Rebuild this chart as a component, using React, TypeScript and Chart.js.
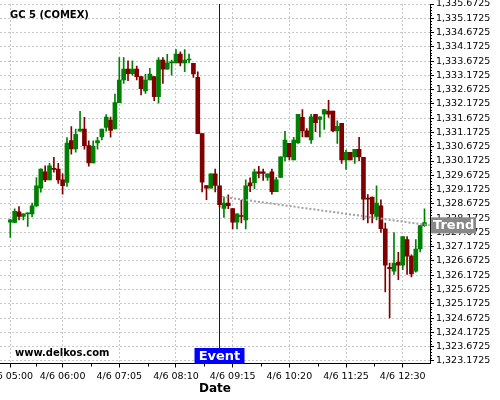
import React, { useEffect, useRef } from 'react';
import { Chart, registerables } from 'chart.js';

Chart.register(...registerables);

const titleText = 'GC 5 (COMEX)';
const watermark = 'www.delkos.com';
const xAxisTitle = 'Date';
const dateLabel = '4/6';

const times = [
  '05:00', '05:05', '05:10', '05:15', '05:20', '05:25', '05:30', '05:35', '05:40', '05:45', '05:50', '05:55',
  '06:00', '06:05', '06:10', '06:15', '06:20', '06:25', '06:30', '06:35', '06:40', '06:45', '06:50', '06:55',
  '07:00', '07:05', '07:10', '07:15', '07:20', '07:25', '07:30', '07:35', '07:40', '07:45', '07:50', '07:55',
  '08:00', '08:05', '08:10', '08:15', '08:20', '08:25', '08:30', '08:35', '08:40', '08:45', '08:50', '08:55',
  '09:00', '09:05', '09:10', '09:15', '09:20', '09:25', '09:30', '09:35', '09:40', '09:45', '09:50', '09:55',
  '10:00', '10:05', '10:10', '10:15', '10:20', '10:25', '10:30', '10:35', '10:40', '10:45', '10:50', '10:55',
  '11:00', '11:05', '11:10', '11:15', '11:20', '11:25', '11:30', '11:35', '11:40', '11:45', '11:50', '11:55',
  '12:00', '12:05', '12:10', '12:15', '12:20', '12:25', '12:30', '12:35', '12:40', '12:45', '12:50', '12:55',
];

const opens = [
  1328.03, 1328.02, 1328.39, 1328.23, 1328.32, 1328.32, 1328.60, 1329.22, 1329.79, 1329.51, 1329.92, 1329.89,
  1329.51, 1329.42, 1330.89, 1330.60, 1331.22, 1331.29, 1330.71, 1330.11, 1330.81, 1331.02, 1331.35, 1331.61,
  1331.30, 1332.22, 1333.01, 1333.39, 1333.23, 1333.39, 1333.13, 1332.63, 1333.01, 1333.13, 1332.43, 1333.71,
  1333.39, 1333.61, 1333.61, 1333.92, 1333.61, 1333.71, 1333.59, 1333.10, 1331.13, 1329.31, 1329.22, 1329.72,
  1329.30, 1328.51, 1328.70, 1328.51, 1328.03, 1328.25, 1328.11, 1329.41, 1329.41, 1329.79, 1329.79, 1329.60,
  1329.79, 1329.10, 1329.60, 1330.32, 1330.79, 1330.21, 1330.81, 1331.70, 1331.23, 1330.91, 1331.81, 1331.63,
  1331.81, 1331.92, 1331.92, 1331.23, 1331.49, 1330.21, 1330.48, 1330.32, 1330.58, 1330.30, 1328.86, 1328.91,
  1328.23, 1328.60, 1327.80, 1326.45, 1326.31, 1326.63, 1326.52, 1327.42, 1326.84, 1326.31, 1327.09, 1327.91,
];
const highs = [
  1328.12, 1328.50, 1328.58, 1328.32, 1328.36, 1328.70, 1329.59, 1329.90, 1330.00, 1330.09, 1330.30, 1330.09,
  1329.72, 1330.99, 1331.38, 1331.29, 1331.91, 1331.70, 1330.88, 1330.88, 1331.00, 1331.29, 1331.80, 1331.71,
  1332.52, 1333.80, 1333.80, 1333.68, 1333.68, 1333.50, 1333.13, 1333.21, 1333.42, 1333.13, 1333.80, 1333.80,
  1333.91, 1333.71, 1334.08, 1334.00, 1334.08, 1333.92, 1333.59, 1333.30, 1331.13, 1329.31, 1329.72, 1329.89,
  1329.30, 1328.91, 1328.99, 1328.51, 1328.32, 1328.80, 1329.51, 1329.58, 1329.89, 1329.99, 1329.89, 1329.72,
  1329.89, 1329.60, 1330.32, 1331.21, 1330.79, 1331.00, 1331.81, 1331.97, 1331.31, 1331.81, 1331.81, 1331.72,
  1331.97, 1332.30, 1331.92, 1331.58, 1331.49, 1330.56, 1330.48, 1330.58, 1331.00, 1330.30, 1329.00, 1328.91,
  1329.30, 1328.81, 1328.00, 1326.60, 1327.67, 1326.97, 1327.53, 1327.53, 1326.89, 1327.42, 1327.91, 1328.50,
];
const lows = [
  1327.50, 1328.00, 1328.11, 1328.11, 1327.88, 1328.21, 1328.58, 1329.08, 1329.45, 1329.51, 1329.78, 1329.39,
  1329.01, 1329.28, 1330.41, 1330.48, 1331.22, 1330.59, 1329.99, 1330.11, 1330.59, 1330.91, 1331.22, 1331.01,
  1331.30, 1332.22, 1332.89, 1332.99, 1333.18, 1333.01, 1332.49, 1332.54, 1333.01, 1332.29, 1332.20, 1332.89,
  1333.39, 1333.18, 1333.61, 1333.50, 1333.30, 1333.61, 1333.10, 1331.13, 1329.09, 1328.82, 1329.22, 1329.09,
  1328.56, 1328.20, 1328.50, 1327.79, 1327.79, 1328.00, 1327.79, 1329.10, 1329.20, 1329.58, 1329.49, 1329.49,
  1329.01, 1329.10, 1329.60, 1330.18, 1330.21, 1330.21, 1330.79, 1331.02, 1331.02, 1330.79, 1331.20, 1331.02,
  1331.28, 1331.70, 1331.20, 1330.79, 1330.09, 1329.88, 1330.21, 1330.09, 1330.18, 1328.11, 1328.00, 1328.00,
  1328.11, 1327.67, 1325.59, 1324.68, 1326.20, 1326.02, 1326.37, 1326.20, 1326.11, 1326.28, 1326.99, 1327.88,
];
const closes = [
  1328.11, 1328.41, 1328.23, 1328.32, 1328.36, 1328.60, 1329.30, 1329.89, 1329.51, 1330.00, 1329.88, 1329.51,
  1329.31, 1330.80, 1330.60, 1331.11, 1331.29, 1330.71, 1330.11, 1330.70, 1330.89, 1331.29, 1331.71, 1331.24,
  1332.22, 1333.01, 1333.39, 1333.23, 1333.39, 1333.13, 1332.71, 1333.01, 1333.22, 1332.43, 1333.71, 1333.39,
  1333.61, 1333.64, 1333.92, 1333.61, 1333.71, 1333.74, 1333.22, 1331.13, 1329.43, 1329.22, 1329.72, 1329.32,
  1328.64, 1328.70, 1328.61, 1328.03, 1328.32, 1328.23, 1329.30, 1329.30, 1329.79, 1329.74, 1329.74, 1329.72,
  1329.10, 1329.51, 1330.32, 1330.91, 1330.32, 1330.91, 1331.81, 1331.23, 1331.02, 1331.72, 1331.52, 1331.72,
  1331.97, 1331.81, 1331.23, 1331.39, 1330.21, 1330.48, 1330.21, 1330.58, 1330.32, 1328.84, 1328.84, 1328.32,
  1328.70, 1327.80, 1326.52, 1326.40, 1326.60, 1326.52, 1327.53, 1326.84, 1326.22, 1327.09, 1327.91, 1328.02,
];

const xTickTimes = ['05:00', '06:00', '07:05', '08:10', '09:15', '10:20', '11:25', '12:30'];
const yTickValues = [
  1323.1725, 1323.6725, 1324.1725, 1324.6725, 1325.1725, 1325.6725, 1326.1725, 1326.6725, 1327.1725,
  1327.6725, 1328.1725, 1328.6725, 1329.1725, 1329.6725, 1330.1725, 1330.6725, 1331.1725, 1331.6725,
  1332.1725, 1332.6725, 1333.1725, 1333.6725, 1334.1725, 1334.6725, 1335.1725, 1335.6725,
];

const eventTime = '09:00';
const eventLabel = 'Event';
const trendTimes = ['09:03', '13:01'];
const trendValues = [1328.92, 1327.92];
const trendLabel = 'Trend';

const UP = '#008000';
const DOWN = '#800000';
const FONT = "'DejaVu Sans', sans-serif";

const toMin = (t: string) => {
  const [h, m] = t.split(':').map(Number);
  return h * 60 + m - 300;
};
const fromMin = (v: number) => {
  const tot = Math.round(v) + 300;
  const h = Math.floor(tot / 60);
  const m = tot % 60;
  return `${String(h).padStart(2, '0')}:${String(m).padStart(2, '0')}`;
};

const overlayPlugin = {
  id: 'overlay',
  afterDraw(chart: any) {
    const { ctx, chartArea: a, scales } = chart;
    const x = scales.x;
    const y = scales.y;
    ctx.save();
    ctx.strokeStyle = '#000';
    ctx.lineWidth = 1;
    ctx.beginPath();
    // y minor ticks
    for (let i = 0; i < yTickValues.length - 1; i++) {
      for (let k = 1; k < 5; k++) {
        const v = yTickValues[i] + k * 0.1;
        const py = Math.round(y.getPixelForValue(v)) + 0.5;
        ctx.moveTo(a.right, py);
        ctx.lineTo(a.right + 2, py);
      }
    }
    // x minor ticks (midpoints between labelled ticks)
    const majors = xTickTimes.map(toMin);
    const step = majors[2] - majors[1];
    const mids: number[] = [];
    for (let i = 0; i < majors.length - 1; i++) mids.push((majors[i] + majors[i + 1]) / 2);
    mids.push(majors[majors.length - 1] + step / 2);
    mids.push(majors[0] - step / 2);
    mids.forEach((m) => {
      const px = Math.round(x.getPixelForValue(m)) + 0.5;
      if (px < a.left || px > a.right) return;
      ctx.moveTo(px, a.bottom);
      ctx.lineTo(px, a.bottom + 3);
    });
    ctx.stroke();

    // event line
    const ex = Math.floor(x.getPixelForValue(toMin(eventTime))) + 0.5;
    ctx.strokeStyle = '#0000ff';
    ctx.beginPath();
    ctx.moveTo(ex, a.top);
    ctx.lineTo(ex, a.bottom);
    ctx.stroke();
    ctx.fillStyle = '#0000ff';
    ctx.fillRect(ex - 25, a.bottom - 15.5, 50, 16);
    ctx.fillStyle = '#fff';
    ctx.font = `bold 13px ${FONT}`;
    ctx.textAlign = 'center';
    ctx.textBaseline = 'middle';
    ctx.fillText(eventLabel, ex, a.bottom - 7);

    // trend label
    const ty = y.getPixelForValue(trendValues[trendValues.length - 1]);
    ctx.fillStyle = '#888888';
    ctx.fillRect(a.right + 1, ty - 8, 45, 16);
    ctx.fillStyle = '#fff';
    ctx.textAlign = 'left';
    ctx.fillText(trendLabel, a.right + 3, ty + 0.5);

    // texts
    ctx.fillStyle = '#000';
    ctx.font = `bold 10px ${FONT}`;
    ctx.textAlign = 'left';
    ctx.fillText(titleText, a.left + 10, a.top + 11.5);
    ctx.fillText(watermark, a.left + 15, a.bottom - 10);
    ctx.restore();
  },
};

export default function App() {
  const ref = useRef<HTMLCanvasElement | null>(null);
  useEffect(() => {
    if (!ref.current) return;
    const colors = opens.map((o, i) => (closes[i] >= o ? UP : DOWN));
    const chart = new Chart(ref.current, {
      type: 'bar',
      data: {
        datasets: [
          {
            type: 'line',
            data: trendTimes.map((t, i) => ({ x: toMin(t), y: trendValues[i] })),
            borderColor: '#a0a0a0',
            borderWidth: 2,
            borderDash: [2, 2],
            pointRadius: 0,
            fill: false,
          } as any,
          {
            data: times.map((t, i) => ({ x: toMin(t), y: [opens[i], closes[i]] })),
            backgroundColor: colors,
            barThickness: 4,
            grouped: false,
            minBarLength: 1,
            borderWidth: 0,
          } as any,
          {
            data: times.map((t, i) => ({ x: toMin(t), y: [lows[i], highs[i]] })),
            backgroundColor: colors,
            barThickness: 1,
            grouped: false,
            borderWidth: 0,
          } as any,
        ],
      },
      options: {
        animation: false,
        responsive: true,
        maintainAspectRatio: false,
        events: [],
        layout: { padding: { top: 4, left: 0, right: 0, bottom: 0 }, autoPadding: false },
        plugins: { legend: { display: false }, tooltip: { enabled: false }, title: { display: false } },
        scales: {
          x: {
            type: 'linear',
            position: 'bottom',
            min: -11.8,
            max: 481.3,
            offset: false,
            grid: { offset: false, color: '#c8c8c8', lineWidth: 1, tickColor: '#000', tickLength: 4, drawTicks: true },
            border: { display: true, color: '#000', width: 1, dash: [2, 2] },
            ticks: {
              autoSkip: false,
              maxRotation: 0,
              minRotation: 0,
              padding: 3,
              color: '#000',
              font: { family: FONT, size: 9.5 },
              callback: (v: any) => `${dateLabel} ${fromMin(Number(v))}`,
            },
            title: { display: true, text: xAxisTitle, color: '#000', font: { family: FONT, size: 12, weight: 'bold' }, padding: { top: 0, bottom: 4 } },
            afterBuildTicks: (s: any) => {
              s.ticks = xTickTimes.map((t) => ({ value: toMin(t) }));
            },
            afterFit: (s: any) => {
              s.height = 36.5;
              s.paddingLeft = 0;
              s.paddingRight = 0;
            },
          } as any,
          y: {
            type: 'linear',
            position: 'right',
            min: 1323.08,
            max: 1335.6725,
            beginAtZero: false,
            grid: { color: '#c8c8c8', lineWidth: 1, tickColor: '#000', tickLength: 4, drawTicks: true },
            border: { display: true, color: '#000', width: 1, dash: [2, 2] },
            ticks: {
              autoSkip: false,
              padding: 2,
              color: '#000',
              font: { family: FONT, size: 9.5 },
              callback: (v: any) => Number(v).toLocaleString('en-US', { minimumFractionDigits: 4, maximumFractionDigits: 4 }),
            },
            afterBuildTicks: (s: any) => {
              s.ticks = yTickValues.map((v) => ({ value: v }));
            },
            afterFit: (s: any) => {
              s.width = 70;
              s.paddingTop = 0;
              s.paddingBottom = 0;
            },
          } as any,
        },
      },
      plugins: [overlayPlugin],
    });
    return () => chart.destroy();
  }, []);

  return (
    <div style={{ position: 'fixed', left: 0, top: 0, width: 500, height: 400, background: '#fff' }}>
      <canvas ref={ref} />
    </div>
  );
}
